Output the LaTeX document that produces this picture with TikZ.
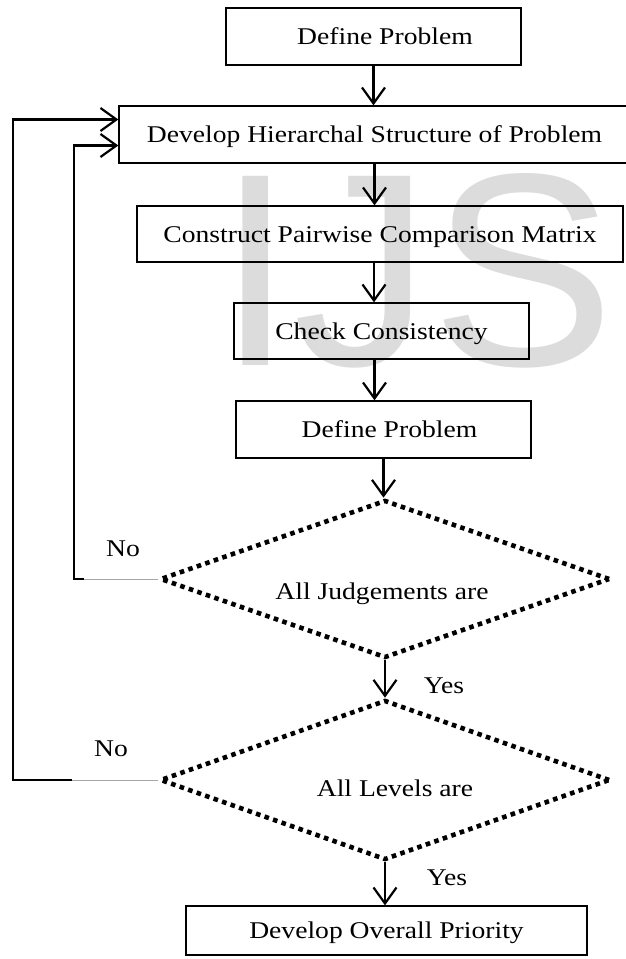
\documentclass[tikz,border=0pt]{standalone}
\usepackage{fontspec}
\setmainfont{Liberation Serif}[FakeStretch=1.15]
\newfontfamily\markfont{Liberation Sans}
\usepackage{tikz}
\usetikzlibrary{arrows.meta,shapes.geometric}
\definecolor{markgray}{RGB}{220,220,220}

\begin{document}
\begin{tikzpicture}[x=1pt,y=-1pt,>={Straight Barb[length=16pt,width=23pt]},
  font=\fontsize{24}{28}\selectfont,
  stage/.style={draw,line width=1.3pt,inner sep=0pt,text height=16pt,text depth=0pt},
  decide/.style={diamond,draw,line width=4.6pt,dash pattern=on 4.6pt off 4.4pt,
    minimum width=450pt,inner sep=0pt},
  flow/.style={->,line width=2.2pt},
  faint/.style={draw=gray!70,line width=0.8pt},
  tag/.style={inner sep=0pt,text height=16pt,text depth=0pt}]
  \useasboundingbox (0,0) rectangle (626,959);
  \node[markgray,anchor=base west,inner sep=0pt,font=\markfont\fontsize{275}{275}\selectfont] (mark) at (217,365) {IJS};

  \node[stage,minimum width=295pt,minimum height=57pt] (define) at (373.5,36.5) {\hspace*{23pt}Define Problem};
  \node[stage,minimum width=511pt,minimum height=57pt] (develop) at (374.5,134.5) {Develop Hierarchal Structure of Problem};
  \node[stage,minimum width=486pt,minimum height=56pt] (pairwise) at (380,234) {Construct Pairwise Comparison Matrix};
  \node[stage,minimum width=295pt,minimum height=56pt] (consist) at (381.5,331) {Check Consistency};
  \node[stage,minimum width=295pt,minimum height=57pt] (recheck) at (383.5,429.5) {\hspace*{12pt}Define Problem};
  \node[decide,minimum height=158pt] (judge) at (385,579) {};
  \node[tag] (judgetext) at (382,591) {All Judgements are};
  \node[decide,minimum height=160pt] (level) at (385,780) {};
  \node[tag] (leveltext) at (395,788) {All Levels are};
  \node[stage,minimum width=401pt,minimum height=49pt] (overall) at (386.5,930.5) {Develop Overall Priority};

  \node[tag] (judgeno) at (123,548) {No};
  \node[tag] (judgeyes) at (444,685) {Yes};
  \node[tag] (levelno) at (111,748) {No};
  \node[tag] (levelyes) at (447,877) {Yes};

  \draw[flow] (define.south) -- (define.south |- develop.north);
  \draw[flow] (develop.south) -- (develop.south |- pairwise.north);
  \draw[flow] ([xshift=-6pt]pairwise.south) -- ([xshift=-6pt]pairwise.south |- consist.north);
  \draw[flow] ([xshift=-7pt]consist.south) -- ([xshift=-7pt]consist.south |- recheck.north);
  \draw[flow] (recheck.south) -- (recheck.south |- judge.north);
  \draw[flow] (judge.south) -- (level.north);
  \draw[flow] (level.south) -- (level.south |- overall.north);

  \coordinate (jfade) at (84,579);
  \coordinate (jturn) at (74,579);
  \coordinate (lfade) at (72,780);
  \coordinate (lturn) at (13,780);
  \draw[faint] (judge.west) -- (jfade);
  \draw[flow] (jfade) -- (jturn) |- ([yshift=-11pt]develop.west);
  \draw[faint] (level.west) -- (lfade);
  \draw[flow] (lfade) -- (lturn) |- ([yshift=15pt]develop.west);
\end{tikzpicture}
\end{document}
